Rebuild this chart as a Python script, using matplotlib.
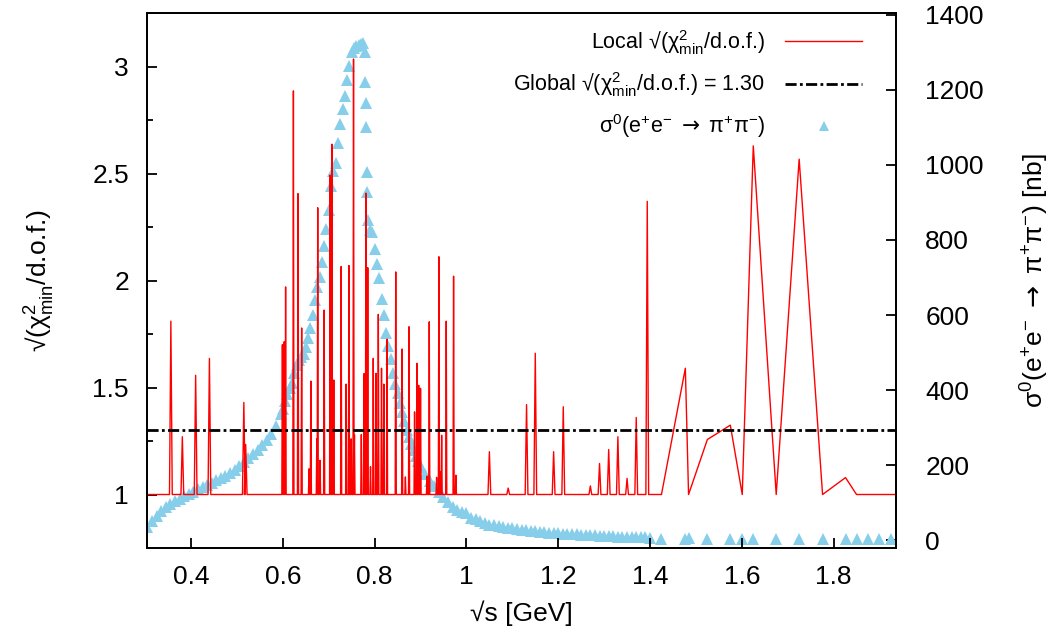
import matplotlib
matplotlib.use("Agg")
import matplotlib.pyplot as plt
from matplotlib.ticker import MultipleLocator, FixedLocator, FuncFormatter
import numpy as np

plt.rcParams["font.family"] = ["Liberation Sans", "DejaVu Sans"]
plt.rcParams["mathtext.fontset"] = "custom"
plt.rcParams["mathtext.rm"] = "Liberation Sans"
plt.rcParams["mathtext.it"] = "Liberation Sans:italic"
plt.rcParams["mathtext.sf"] = "Liberation Sans"
plt.rcParams["mathtext.bf"] = "DejaVu Sans"  # only used for the arrow glyph

RED = "#ff0000"
BLUE = "#87ceeb"

# --- sigma0(e+e- -> pi+pi-) [nb] -----------------------------------------
s_x = [0.305, 0.315, 0.325, 0.335, 0.345, 0.355, 0.365, 0.375, 0.385, 0.395,
       0.405, 0.415, 0.425, 0.435, 0.445, 0.455, 0.465, 0.475, 0.485, 0.495,
       0.505, 0.515, 0.525, 0.535, 0.545, 0.555, 0.565, 0.575, 0.585, 0.595,
       0.600, 0.605, 0.610, 0.615, 0.620, 0.625, 0.630, 0.635, 0.640, 0.645,
       0.650, 0.655, 0.660, 0.665, 0.670, 0.675, 0.680, 0.685, 0.690, 0.695,
       0.700, 0.705, 0.710, 0.715, 0.720, 0.725, 0.730, 0.735, 0.740, 0.745,
       0.750, 0.755, 0.760, 0.765, 0.770, 0.775, 0.778, 0.780, 0.781, 0.782,
       0.783, 0.784, 0.785, 0.790, 0.795, 0.800, 0.805, 0.810, 0.815, 0.820,
       0.825, 0.830, 0.835, 0.840, 0.845, 0.850, 0.855, 0.860, 0.865, 0.870,
       0.875, 0.880, 0.885, 0.890, 0.895, 0.900,
       0.91, 0.92, 0.93, 0.94, 0.95, 0.96, 0.97, 0.98, 0.99, 1.00,
       1.01, 1.02, 1.03, 1.04, 1.05, 1.06, 1.07, 1.08, 1.09, 1.10,
       1.11, 1.12, 1.13, 1.14, 1.15, 1.16, 1.17, 1.18, 1.19, 1.20,
       1.21, 1.22, 1.23, 1.24, 1.25, 1.26, 1.27, 1.28, 1.29, 1.30,
       1.31, 1.32, 1.33, 1.34, 1.35, 1.36, 1.37, 1.38, 1.39, 1.40]
s_sig = [36, 50, 63, 78, 88, 97, 104, 110, 117, 123,
         129, 135, 141, 147, 153, 159, 165, 171, 179, 188,
         197, 208, 219, 230, 241, 254, 268, 283, 305, 335,
         350, 370, 390, 405, 420, 445, 468, 480, 488, 496,
         515, 538, 565, 600, 640, 676, 700, 740, 785, 830,
         880, 945, 985, 1005, 1058, 1110, 1150, 1185, 1227, 1265,
         1300, 1312, 1316, 1320, 1322, 1326, 1300, 1222, 1165, 1100,
         982, 929, 853, 827, 820, 775, 735, 698, 644, 600,
         551, 518, 482, 445, 415, 391, 366, 342, 317, 294,
         274, 256, 240, 225, 212, 195,
         175, 158, 143, 128, 114, 101, 88, 80, 75, 72,
         60, 55, 50, 45, 41, 39, 37, 35, 33, 31,
         29, 28, 26, 25, 23, 22, 21, 20, 19, 18,
         17, 16, 15.5, 15, 14, 13.5, 13, 12.5, 12, 11,
         10.5, 10, 9.5, 9, 8.5, 8, 7.5, 7, 7, 6.5]

# sparse high-energy points (sigma and local chi share this grid)
t_x = [1.425, 1.477, 1.484, 1.525, 1.575, 1.601, 1.625, 1.675, 1.725, 1.776,
       1.826, 1.850, 1.876, 1.900, 1.926, 1.940]
t_sig = [4, 4, 5, 3, 3, 3, 3, 2, 2, 2, 2, 2, 2, 2, 2, 2]
t_chi = [1.0, 1.59, 1.0, 1.257, 1.324, 1.0, 2.629, 1.0, 2.567, 1.0,
         1.079, 1.0, 1.0, 1.0, 1.0, 1.0]

# local sqrt(chi2/dof) spikes below 1.4 GeV; value is 1 everywhere else
spike_x = [0.356, 0.381, 0.410, 0.440, 0.515, 0.519, 0.599, 0.603, 0.606, 0.623,
           0.633, 0.641, 0.657, 0.661, 0.674, 0.676, 0.681, 0.690, 0.703, 0.707,
           0.711, 0.727, 0.738, 0.744, 0.749, 0.754, 0.756, 0.771, 0.777, 0.781,
           0.785, 0.791, 0.797, 0.803, 0.808, 0.815, 0.820, 0.827, 0.846, 0.860,
           0.867, 0.875, 0.887, 0.892, 0.896, 0.900, 0.914, 0.919, 0.935, 0.940,
           0.943, 0.946, 0.956, 0.972, 0.977, 1.050, 1.091, 1.131, 1.150, 1.190,
           1.211, 1.270, 1.290, 1.310, 1.330, 1.350, 1.370, 1.394]
spike_chi = [1.81, 1.27, 1.557, 1.636, 1.43, 1.234, 1.70, 1.714, 1.97, 2.886,
             2.406, 1.778, 1.12, 1.53, 1.26, 2.34, 1.16, 1.862, 2.493, 2.637,
             1.535, 2.065, 1.516, 2.07, 1.26, 3.035, 1.28, 1.28, 1.565, 2.408,
             2.06, 1.13, 1.636, 1.566, 1.842, 1.59, 1.516, 1.726, 2.04, 1.68,
             1.082, 1.784, 1.386, 1.613, 1.51, 1.496, 1.086, 1.807, 1.08, 2.111,
             1.106, 1.277, 1.81, 2.02, 1.09, 1.20, 1.03, 1.42, 1.66, 1.20,
             1.41, 1.04, 1.145, 1.21, 1.27, 1.075, 1.36, 2.37]

GLOBAL_CHI = 1.30

# local chi polyline: floor value 1 at neighbouring points of each spike
chi_x, chi_y = [0.300], [1.0]
for x, h in zip(spike_x, spike_chi):
    w = 0.0012 if 0.59 < x < 0.99 else 0.003
    chi_x += [x - w, x, x + w]
    chi_y += [1.0, h, 1.0]
chi_x += t_x
chi_y += t_chi

fig = plt.figure(figsize=(10.53, 6.37), dpi=100)
ax = fig.add_axes([147 / 1053, 1 - 548 / 637, 749 / 1053, 535 / 637])
ax2 = ax.twinx()
ax.set_zorder(ax2.get_zorder() + 1)
ax.patch.set_visible(False)

h3, = ax2.plot(s_x + t_x, s_sig + t_sig, ls="none", marker="^", ms=8,
               color=BLUE, mec=BLUE, mew=0, clip_on=True)
h1, = ax.plot(chi_x, chi_y, color=RED, lw=1.0)
h2 = ax.axhline(GLOBAL_CHI, color="black", lw=2.0, dashes=(4, 1.2, 1, 1.2))

ax.set_xlim(0.304, 1.936)
ax.set_ylim(0.75, 3.25)
ax2.set_ylim(-21, 1405)

fmt = FuncFormatter(lambda v, p: f"{v:g}")
ax.xaxis.set_major_locator(FixedLocator([0.4, 0.6, 0.8, 1.0, 1.2, 1.4, 1.6, 1.8]))
ax.xaxis.set_major_formatter(fmt)
ax.yaxis.set_major_locator(MultipleLocator(0.5))
ax.yaxis.set_minor_locator(MultipleLocator(0.25))
ax.yaxis.set_major_formatter(fmt)
ax2.yaxis.set_major_locator(MultipleLocator(200))

ax.tick_params(axis="both", which="major", direction="in", length=7.5, width=1.3,
               labelsize=19, top=False, right=False)
ax.tick_params(axis="x", pad=12)
ax.tick_params(axis="y", pad=13)
ax.tick_params(axis="y", which="minor", direction="in", length=4, width=1.3,
               right=False)
ax2.tick_params(axis="y", direction="in", length=7.5, width=1.3, labelsize=19,
                pad=21)
for a in (ax, ax2):
    for s in a.spines.values():
        s.set_linewidth(1.3)

ARROW = r"$\mathbf{\rightarrow}$"
ax.set_xlabel(r"√s [GeV]", fontsize=19, va="center")
ax.xaxis.set_label_coords(0.5, -0.122)
ax.set_ylabel(r"√(χ$^{2}_{\rm min}$/d.o.f.)", fontsize=19, va="center")
ax.yaxis.set_label_coords(-0.143, 0.5)
ax2.set_ylabel(r"σ$^{0}$(e$^{+}$e$^{-}$ " + ARROW + r" π$^{+}$π$^{-}$) [nb]",
               fontsize=19, va="center")
ax2.yaxis.set_label_coords(1.1856, 0.5)

labels = [r"Local √(χ$^{2}_{\rm min}$/d.o.f.)",
          r"Global √(χ$^{2}_{\rm min}$/d.o.f.) = " + f"{GLOBAL_CHI:.2f}",
          r"σ$^{0}$(e$^{+}$e$^{-}$ " + ARROW + r" π$^{+}$π$^{-}$)"]
leg = ax.legend([h1, h2, h3], labels, loc="upper right",
                bbox_to_anchor=((862 - 147) / 749, 0.972), frameon=False,
                fontsize=15.5, markerfirst=False, handlelength=3.57,
                handletextpad=0.93, borderpad=0, borderaxespad=0,
                labelspacing=0.62, numpoints=1, markerscale=0.85)
for col in leg._legend_handle_box.get_children():
    col.align = "right"

fig.savefig("out.png", dpi=100)
